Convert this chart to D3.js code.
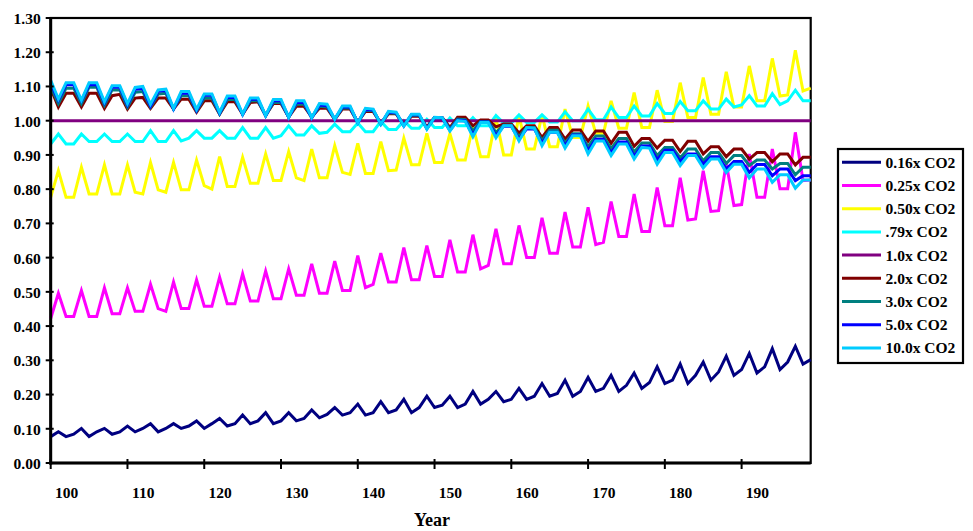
<!DOCTYPE html>
<html>
<head>
<meta charset="utf-8">
<script src="https://cdnjs.cloudflare.com/ajax/libs/d3/7.8.5/d3.min.js"></script>
<style>
    body { margin: 0; background: #fff; }
    text { font-family: "Times New Roman", "Liberation Serif", serif; font-weight: bold; fill: #000; }
</style>
</head>
<body>
<div id="chart"></div>
<script>
// one value per year, 98 .. 197
var firstYear = 98;
var lastYear = 197;
var xTickLabels = [100, 110, 120, 130, 140, 150, 160, 170, 180, 190];
var xTickMarks = [98, 108, 118, 128, 138, 148, 158, 168, 178, 188];
var yTicks = [0, 0.1, 0.2, 0.3, 0.4, 0.5, 0.6, 0.7, 0.8, 0.9, 1.0, 1.1, 1.2, 1.3];

var seriesNames = ["0.16x CO2", "0.25x CO2", "0.50x CO2", ".79x CO2", "1.0x CO2",
    "2.0x CO2", "3.0x CO2", "5.0x CO2", "10.0x CO2"];
var seriesColors = ["#000080", "#ff00ff", "#ffff00", "#00ffff", "#800080",
    "#800000", "#008080", "#0000ff", "#00ccff"];

var co2_016 = [0.077,
    0.091, 0.077, 0.084, 0.101, 0.077, 0.091, 0.101, 0.084, 0.091,
    0.108, 0.091, 0.101, 0.115, 0.091, 0.101, 0.115, 0.101, 0.108,
    0.123, 0.101, 0.115, 0.130, 0.108, 0.115, 0.140, 0.115, 0.123,
    0.147, 0.115, 0.123, 0.147, 0.123, 0.130, 0.155, 0.132, 0.142,
    0.162, 0.140, 0.147, 0.172, 0.140, 0.147, 0.179, 0.147, 0.155,
    0.186, 0.147, 0.162, 0.195, 0.162, 0.169, 0.195, 0.162, 0.172,
    0.209, 0.172, 0.186, 0.209, 0.179, 0.186, 0.218, 0.186, 0.195,
    0.232, 0.195, 0.203, 0.242, 0.195, 0.209, 0.250, 0.209, 0.218,
    0.256, 0.209, 0.227, 0.263, 0.218, 0.235, 0.281, 0.232, 0.242,
    0.289, 0.232, 0.256, 0.295, 0.242, 0.266, 0.312, 0.256, 0.273,
    0.320, 0.263, 0.281, 0.334, 0.273, 0.295, 0.341, 0.289, 0.302];

var co2_025 = [0.422,
    0.496, 0.428, 0.428, 0.504, 0.428, 0.428, 0.512, 0.436, 0.436,
    0.512, 0.443, 0.443, 0.522, 0.451, 0.443, 0.529, 0.451, 0.451,
    0.535, 0.458, 0.458, 0.543, 0.465, 0.465, 0.553, 0.473, 0.473,
    0.561, 0.480, 0.480, 0.567, 0.490, 0.490, 0.582, 0.496, 0.496,
    0.590, 0.504, 0.504, 0.606, 0.512, 0.522, 0.613, 0.529, 0.529,
    0.629, 0.535, 0.535, 0.635, 0.545, 0.545, 0.652, 0.558, 0.558,
    0.667, 0.567, 0.577, 0.684, 0.582, 0.582, 0.694, 0.600, 0.600,
    0.716, 0.613, 0.613, 0.733, 0.631, 0.631, 0.747, 0.638, 0.645,
    0.764, 0.662, 0.662, 0.786, 0.676, 0.676, 0.805, 0.693, 0.693,
    0.833, 0.710, 0.713, 0.854, 0.735, 0.737, 0.875, 0.752, 0.755,
    0.903, 0.776, 0.776, 0.917, 0.801, 0.801, 0.966, 0.825, 0.827];

var co2_050 = [0.776,
    0.854, 0.776, 0.776, 0.864, 0.786, 0.786, 0.871, 0.786, 0.786,
    0.871, 0.791, 0.786, 0.878, 0.798, 0.791, 0.878, 0.798, 0.798,
    0.885, 0.810, 0.800, 0.895, 0.808, 0.808, 0.893, 0.817, 0.817,
    0.903, 0.825, 0.825, 0.910, 0.833, 0.825, 0.917, 0.833, 0.833,
    0.927, 0.849, 0.843, 0.934, 0.846, 0.846, 0.939, 0.854, 0.856,
    0.949, 0.871, 0.871, 0.963, 0.878, 0.878, 0.962, 0.885, 0.885,
    0.985, 0.895, 0.895, 1.008, 0.900, 0.900, 1.014, 0.917, 0.917,
    1.017, 0.924, 0.924, 1.034, 0.951, 0.951, 1.043, 0.963, 0.963,
    1.058, 0.978, 0.978, 1.082, 0.980, 0.980, 1.089, 0.998, 0.998,
    1.111, 1.009, 1.009, 1.126, 1.019, 1.019, 1.143, 1.040, 1.040,
    1.160, 1.058, 1.058, 1.182, 1.072, 1.075, 1.206, 1.087, 1.095];

var co2_079 = [0.932,
    0.961, 0.932, 0.932, 0.961, 0.939, 0.939, 0.961, 0.939, 0.939,
    0.961, 0.939, 0.939, 0.971, 0.939, 0.939, 0.971, 0.941, 0.949,
    0.971, 0.949, 0.949, 0.971, 0.949, 0.949, 0.980, 0.949, 0.949,
    0.980, 0.949, 0.956, 0.985, 0.958, 0.958, 0.985, 0.963, 0.966,
    0.990, 0.968, 0.968, 0.993, 0.968, 0.968, 0.998, 0.974, 0.974,
    1.000, 0.978, 0.978, 1.004, 0.980, 0.980, 1.008, 0.985, 0.985,
    1.009, 0.985, 0.985, 1.015, 0.993, 0.993, 1.017, 0.995, 0.995,
    1.017, 0.996, 0.996, 1.026, 1.000, 1.000, 1.034, 1.003, 1.003,
    1.040, 1.009, 1.009, 1.043, 1.014, 1.014, 1.050, 1.021, 1.021,
    1.056, 1.029, 1.029, 1.058, 1.034, 1.034, 1.063, 1.040, 1.046,
    1.073, 1.043, 1.043, 1.079, 1.047, 1.058, 1.089, 1.058, 1.058];

var co2_100 = [1.00,
    1.00, 1.00, 1.00, 1.00, 1.00, 1.00, 1.00, 1.00, 1.00,
    1.00, 1.00, 1.00, 1.00, 1.00, 1.00, 1.00, 1.00, 1.00,
    1.00, 1.00, 1.00, 1.00, 1.00, 1.00, 1.00, 1.00, 1.00,
    1.00, 1.00, 1.00, 1.00, 1.00, 1.00, 1.00, 1.00, 1.00,
    1.00, 1.00, 1.00, 1.00, 1.00, 1.00, 1.00, 1.00, 1.00,
    1.00, 1.00, 1.00, 1.00, 1.00, 1.00, 1.00, 1.00, 1.00,
    1.00, 1.00, 1.00, 1.00, 1.00, 1.00, 1.00, 1.00, 1.00,
    1.00, 1.00, 1.00, 1.00, 1.00, 1.00, 1.00, 1.00, 1.00,
    1.00, 1.00, 1.00, 1.00, 1.00, 1.00, 1.00, 1.00, 1.00,
    1.00, 1.00, 1.00, 1.00, 1.00, 1.00, 1.00, 1.00, 1.00,
    1.00, 1.00, 1.00, 1.00, 1.00, 1.00, 1.00, 1.00, 1.00];

var co2_200 = [1.095,
    1.040, 1.080, 1.080, 1.040, 1.080, 1.080, 1.036, 1.073, 1.077,
    1.034, 1.066, 1.068, 1.036, 1.066, 1.066, 1.034, 1.063, 1.063,
    1.025, 1.058, 1.058, 1.019, 1.055, 1.055, 1.019, 1.053, 1.055,
    1.016, 1.050, 1.050, 1.011, 1.042, 1.042, 1.011, 1.036, 1.036,
    1.004, 1.034, 1.034, 0.996, 1.027, 1.027, 0.992, 1.020, 1.020,
    0.988, 1.013, 1.013, 0.982, 1.009, 1.009, 0.980, 1.010, 1.010,
    0.985, 1.002, 1.002, 0.982, 0.990, 0.990, 0.964, 0.985, 0.985,
    0.951, 0.980, 0.980, 0.946, 0.973, 0.973, 0.940, 0.970, 0.970,
    0.934, 0.966, 0.966, 0.925, 0.948, 0.948, 0.920, 0.943, 0.943,
    0.910, 0.940, 0.940, 0.903, 0.924, 0.924, 0.895, 0.917, 0.917,
    0.888, 0.907, 0.907, 0.880, 0.903, 0.903, 0.871, 0.893, 0.893];

var co2_300 = [1.100,
    1.050, 1.095, 1.095, 1.050, 1.098, 1.098, 1.045, 1.090, 1.090,
    1.040, 1.083, 1.085, 1.040, 1.078, 1.080, 1.034, 1.073, 1.073,
    1.028, 1.066, 1.066, 1.020, 1.062, 1.062, 1.019, 1.058, 1.058,
    1.014, 1.053, 1.053, 1.010, 1.048, 1.048, 1.009, 1.042, 1.040,
    1.004, 1.037, 1.037, 0.994, 1.030, 1.030, 0.990, 1.023, 1.022,
    0.986, 1.016, 1.016, 0.978, 1.009, 1.008, 0.976, 1.005, 1.003,
    0.970, 0.998, 0.998, 0.966, 0.987, 0.987, 0.953, 0.980, 0.980,
    0.942, 0.972, 0.972, 0.935, 0.962, 0.962, 0.924, 0.955, 0.955,
    0.918, 0.948, 0.948, 0.908, 0.935, 0.935, 0.898, 0.922, 0.922,
    0.891, 0.917, 0.917, 0.883, 0.907, 0.907, 0.875, 0.898, 0.898,
    0.869, 0.885, 0.885, 0.859, 0.875, 0.875, 0.842, 0.864, 0.864];

var co2_500 = [1.110,
    1.060, 1.105, 1.105, 1.058, 1.105, 1.105, 1.052, 1.098, 1.098,
    1.046, 1.092, 1.094, 1.043, 1.086, 1.088, 1.034, 1.080, 1.080,
    1.030, 1.074, 1.074, 1.022, 1.068, 1.068, 1.018, 1.063, 1.063,
    1.014, 1.058, 1.058, 1.010, 1.053, 1.053, 1.008, 1.046, 1.044,
    1.004, 1.040, 1.040, 0.994, 1.033, 1.032, 0.990, 1.025, 1.023,
    0.985, 1.018, 1.017, 0.977, 1.009, 1.008, 0.972, 1.002, 1.000,
    0.958, 0.996, 0.996, 0.956, 0.984, 0.984, 0.946, 0.976, 0.976,
    0.934, 0.966, 0.966, 0.927, 0.958, 0.958, 0.912, 0.946, 0.946,
    0.906, 0.938, 0.938, 0.896, 0.926, 0.926, 0.886, 0.914, 0.914,
    0.881, 0.903, 0.903, 0.873, 0.895, 0.895, 0.859, 0.881, 0.881,
    0.849, 0.872, 0.872, 0.839, 0.859, 0.859, 0.825, 0.839, 0.839];

var co2_1000 = [1.118,
    1.063, 1.111, 1.111, 1.060, 1.111, 1.111, 1.055, 1.102, 1.102,
    1.050, 1.097, 1.100, 1.048, 1.090, 1.092, 1.036, 1.085, 1.085,
    1.033, 1.078, 1.078, 1.024, 1.072, 1.072, 1.019, 1.066, 1.066,
    1.015, 1.062, 1.062, 1.010, 1.058, 1.058, 1.009, 1.050, 1.048,
    1.004, 1.043, 1.043, 0.993, 1.036, 1.034, 0.989, 1.027, 1.025,
    0.984, 1.019, 1.019, 0.975, 1.010, 1.009, 0.970, 1.000, 0.998,
    0.953, 0.995, 0.995, 0.950, 0.985, 0.985, 0.941, 0.980, 0.978,
    0.927, 0.966, 0.966, 0.920, 0.956, 0.956, 0.903, 0.941, 0.941,
    0.898, 0.932, 0.932, 0.888, 0.922, 0.920, 0.873, 0.907, 0.907,
    0.869, 0.898, 0.898, 0.862, 0.888, 0.888, 0.849, 0.873, 0.873,
    0.833, 0.859, 0.859, 0.820, 0.842, 0.842, 0.803, 0.827, 0.827];

var seriesValues = [co2_016, co2_025, co2_050, co2_079, co2_100,
    co2_200, co2_300, co2_500, co2_1000];

var width = 973;
var height = 531;
var plot = { left: 50.7, right: 810.7, top: 18, bottom: 463 };

var svg = d3.select("#chart").append("svg")
    .attr("width", width)
    .attr("height", height);

var x = d3.scaleLinear()
    .domain([firstYear, lastYear])
    .range([plot.left, plot.right]);

var y = d3.scaleLinear()
    .domain([0, 1.3])
    .range([plot.bottom, plot.top]);

var years = d3.range(firstYear, lastYear + 1);

// plot frame
svg.append("rect")
    .attr("x", plot.left)
    .attr("y", plot.top)
    .attr("width", plot.right - plot.left)
    .attr("height", plot.bottom - plot.top)
    .attr("fill", "none")
    .attr("stroke", "#000")
    .attr("stroke-width", 2.2);

// lines
var line = d3.line()
    .x(function (d, i) { return x(years[i]); })
    .y(function (d) { return y(d); });

svg.selectAll(".series")
    .data(seriesValues)
    .enter()
    .append("path")
    .attr("class", "series")
    .attr("d", line)
    .attr("fill", "none")
    .attr("stroke", function (d, i) { return seriesColors[i]; })
    .attr("stroke-width", 3)
    .attr("stroke-linejoin", "miter");

// y axis
var yAxis = d3.axisLeft(y)
    .tickValues(yTicks)
    .tickSize(0)
    .tickPadding(10)
    .tickFormat(d3.format(".2f"));

var yg = svg.append("g")
    .attr("transform", "translate(" + plot.left + ",0)")
    .call(yAxis);
yg.select(".domain").remove();
yg.selectAll("text")
    .style("font-size", "15.5px")
    .attr("dy", "0.35em");

svg.append("g").selectAll("line")
    .data(yTicks)
    .enter()
    .append("line")
    .attr("x1", plot.left - 5)
    .attr("x2", plot.left + 3)
    .attr("y1", function (d) { return y(d); })
    .attr("y2", function (d) { return y(d); })
    .attr("stroke", "#000")
    .attr("stroke-width", 2);

// x axis: marks and labels sit on different years
var xAxis = d3.axisBottom(x)
    .tickValues(xTickLabels)
    .tickSize(0)
    .tickPadding(24)
    .tickFormat(d3.format("d"));

var xg = svg.append("g")
    .attr("transform", "translate(0," + plot.bottom + ")")
    .call(xAxis);
xg.select(".domain").remove();
xg.selectAll("text").style("font-size", "15.5px");

svg.append("g").selectAll("line")
    .data(xTickMarks)
    .enter()
    .append("line")
    .attr("x1", function (d) { return x(d); })
    .attr("x2", function (d) { return x(d); })
    .attr("y1", plot.bottom - 4)
    .attr("y2", plot.bottom + 6)
    .attr("stroke", "#000")
    .attr("stroke-width", 2);

// heavier axis lines
svg.append("line")
    .attr("x1", plot.left).attr("x2", plot.left)
    .attr("y1", plot.top).attr("y2", plot.bottom + 1.5)
    .attr("stroke", "#000").attr("stroke-width", 3);
svg.append("line")
    .attr("x1", plot.left - 1.5).attr("x2", plot.right)
    .attr("y1", plot.bottom).attr("y2", plot.bottom)
    .attr("stroke", "#000").attr("stroke-width", 3.2);

svg.append("text")
    .attr("x", 432)
    .attr("y", 526)
    .attr("text-anchor", "middle")
    .style("font-size", "18px")
    .text("Year");

// legend
var legendX = 838;
var legendY = 149;
var rowHeight = 23.2;

svg.append("rect")
    .attr("x", legendX)
    .attr("y", legendY)
    .attr("width", 125)
    .attr("height", 214)
    .attr("fill", "#fff")
    .attr("stroke", "#000")
    .attr("stroke-width", 2.2);

var legend = svg.selectAll(".legend")
    .data(seriesNames)
    .enter()
    .append("g")
    .attr("class", "legend")
    .attr("transform", function (d, i) {
        return "translate(" + legendX + "," + (legendY + 13.3 + i * rowHeight) + ")";
    });

legend.append("line")
    .attr("x1", 4)
    .attr("x2", 43)
    .attr("stroke", function (d, i) { return seriesColors[i]; })
    .attr("stroke-width", 3);

legend.append("text")
    .attr("x", 47.5)
    .attr("dy", "0.35em")
    .style("font-size", "15.5px")
    .text(function (d) { return d; });
</script>
</body>
</html>
